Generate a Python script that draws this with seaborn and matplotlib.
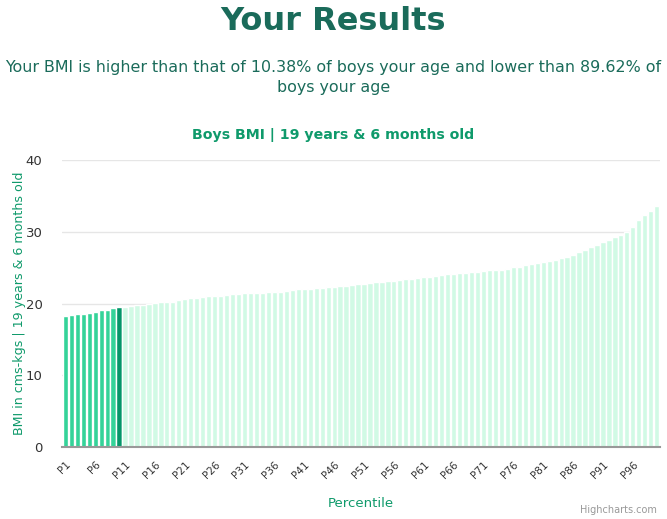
import seaborn as sns
import matplotlib.pyplot as plt
import pandas as pd

# BMI por percentil (P1..P100)
percentis = [f"P{i}" for i in range(1, 101)]
bmi = [
    18.19, 18.33, 18.47, 18.60, 18.74, 18.88, 19.16, 19.16, 19.44, 19.58,
    19.58, 19.72, 19.86, 19.86, 20.00, 20.14, 20.28, 20.28, 20.28, 20.42,
    20.56, 20.70, 20.70, 20.84, 20.98, 20.98, 20.98, 21.12, 21.26, 21.26,
    21.40, 21.40, 21.40, 21.51, 21.65, 21.65, 21.65, 21.79, 21.92, 22.06,
    22.06, 22.06, 22.20, 22.20, 22.34, 22.34, 22.48, 22.48, 22.62, 22.76,
    22.76, 22.90, 23.04, 23.04, 23.18, 23.18, 23.32, 23.46, 23.46, 23.60,
    23.74, 23.74, 23.88, 24.02, 24.10, 24.10, 24.20, 24.28, 24.42, 24.42,
    24.56, 24.70, 24.70, 24.70, 24.84, 25.12, 25.12, 25.40, 25.53, 25.67,
    25.81, 25.95, 26.09, 26.37, 26.51, 26.79, 27.21, 27.49, 27.91, 28.19,
    28.60, 28.88, 29.30, 29.58, 30.00, 30.70, 31.67, 32.37, 32.93, 33.63,
]
percentil_usuario = 10
tick_labels = [f"P{i}" for i in range(1, 101, 5)]

verde_abaixo = "#34d399"
verde_usuario = "#059669"
verde_acima = "#d1fae5"
cor_titulo = "#1a6b5a"
cor_eixo = "#0f9a6b"

cores = []
for i in range(1, 101):
    if i < percentil_usuario:
        cores.append(verde_abaixo)
    elif i == percentil_usuario:
        cores.append(verde_usuario)
    else:
        cores.append(verde_acima)

df = pd.DataFrame({"percentil": percentis, "bmi": bmi})

sns.set_style("white")
plt.rcParams['font.family'] = ['DejaVu Sans']

fig = plt.figure(figsize=(6.67, 5.19), dpi=100)
ax = fig.add_axes([0.093, 0.1387, 0.8965, 0.553])

sns.barplot(data=df, x="percentil", y="bmi", hue="percentil", palette=cores,
            legend=False, width=0.88, ax=ax, saturation=1)

ax.set_ylim(0, 40)
ax.set_xlim(-0.55, 99.55)
ax.set_yticks([0, 10, 20, 30, 40])
ax.tick_params(axis="y", labelsize=9.5, labelcolor="#333333", length=0, pad=14)
ax.yaxis.grid(True, color="#e6e6e6", linewidth=1)
ax.set_axisbelow(True)

ax.set_xticks(range(0, 100, 5))
ax.set_xticklabels(tick_labels, rotation=45, ha="right", rotation_mode="anchor",
                   fontsize=7.5, color="#333333")
ax.tick_params(axis="x", length=0, pad=9)

for lado in ["top", "right", "left"]:
    ax.spines[lado].set_visible(False)
ax.spines["bottom"].set_color("#999999")
ax.spines["bottom"].set_linewidth(1.5)

ax.set_xlabel("Percentile", color=cor_eixo, fontsize=9.5, labelpad=12)
ax.set_ylabel("BMI in cms-kgs | 19 years & 6 months old", color=cor_eixo,
              fontsize=9.1, labelpad=0)

fig.text(0.5, 0.958, "Your Results", ha="center", va="center",
         fontsize=23, fontweight="bold", color=cor_titulo)
fig.text(0.5, 0.85, "Your BMI is higher than that of 10.38% of boys your age and lower than 89.62% of\nboys your age",
         ha="center", va="center", fontsize=11.45, color=cor_titulo, linespacing=1.4)
fig.text(0.5, 0.74, "Boys BMI | 19 years & 6 months old", ha="center", va="center",
         fontsize=10.2, fontweight="bold", color=cor_eixo)
fig.text(0.985, 0.017, "Highcharts.com", ha="right", va="center",
         fontsize=7, color="#999999")

plt.savefig("out.png", dpi=100)
